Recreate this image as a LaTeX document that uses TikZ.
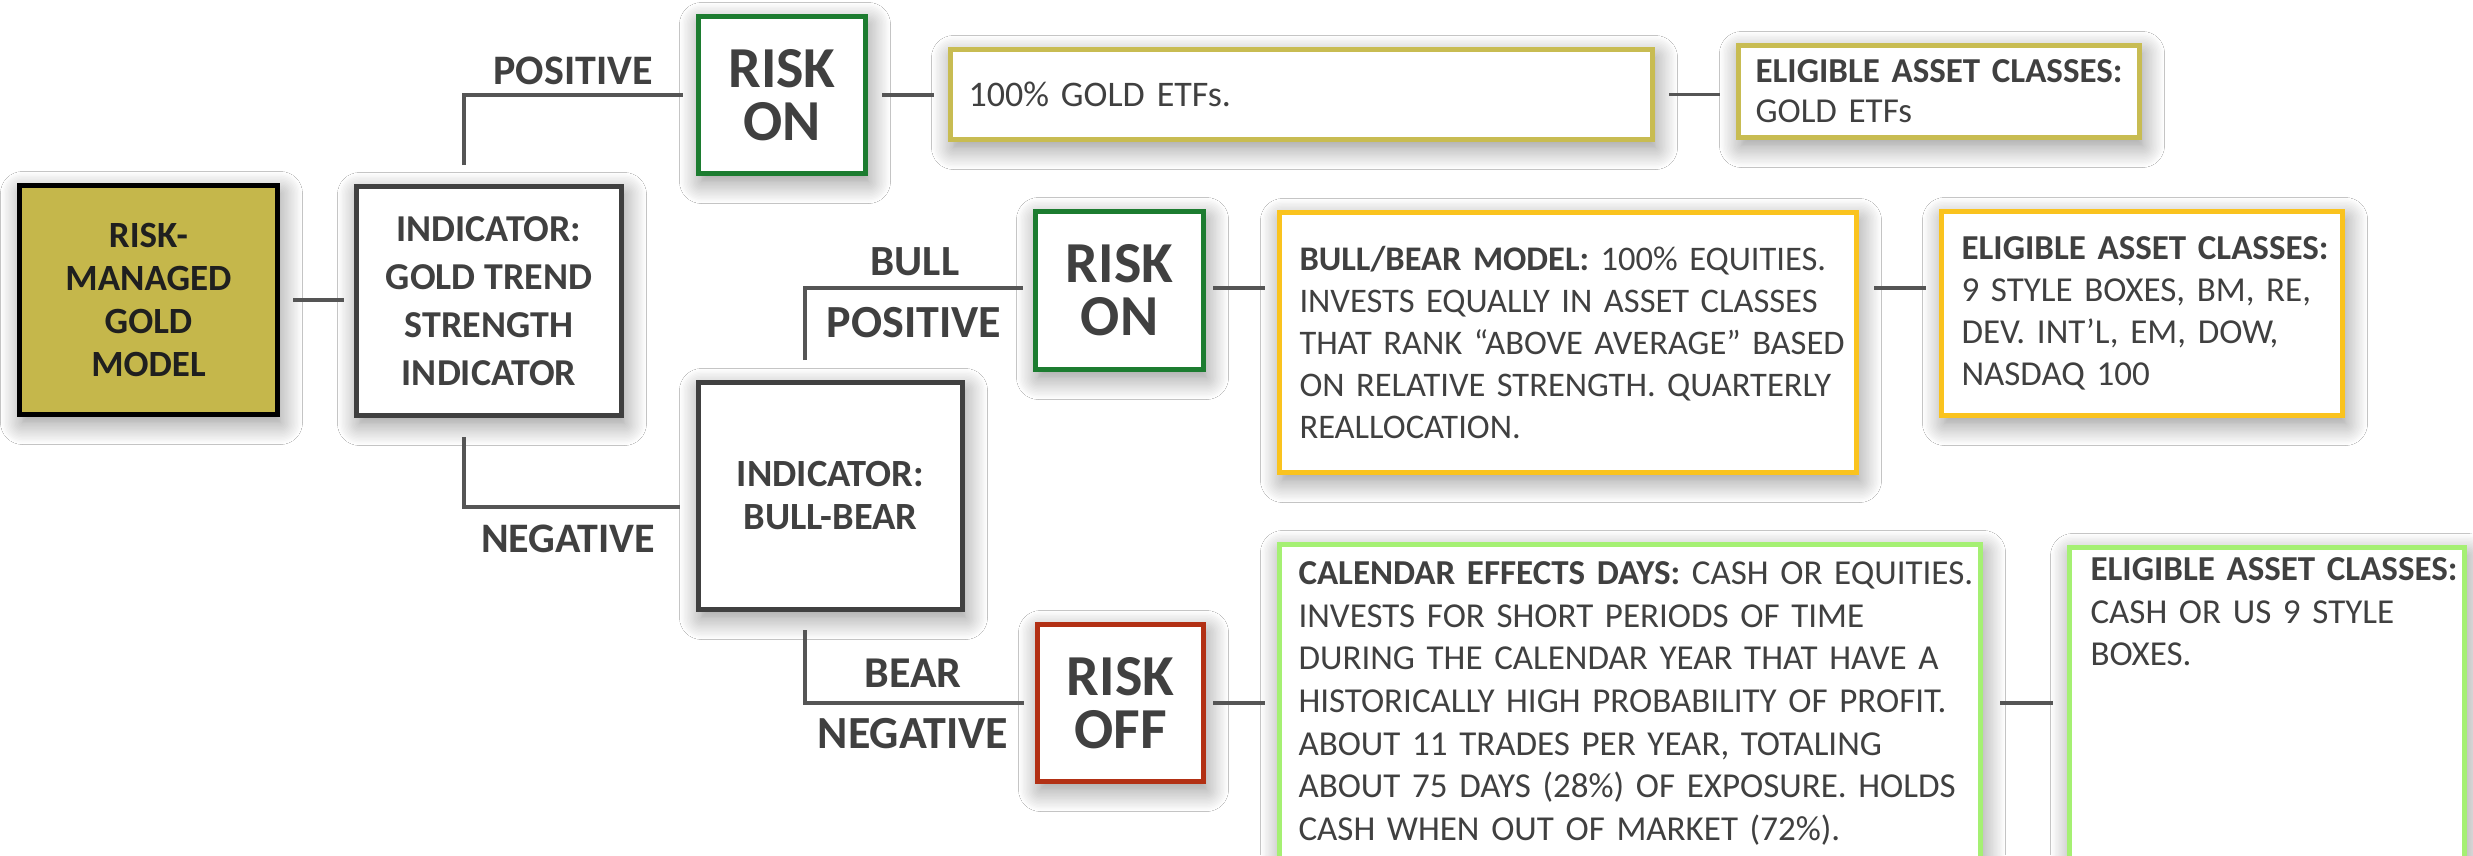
\documentclass[tikz,border=0pt]{standalone}
\usepackage{fontspec}
\setmainfont{Carlito}
\usetikzlibrary{shadows.blur,calc}
\definecolor{goldfill}{RGB}{197,183,75}
\definecolor{goldline}{RGB}{200,188,82}
\definecolor{riskgreen}{RGB}{28,124,48}
\definecolor{riskred}{RGB}{178,48,20}
\definecolor{ambline}{RGB}{250,195,30}
\definecolor{limeline}{RGB}{165,240,115}
\definecolor{txtgray}{RGB}{64,64,64}
\definecolor{conngray}{RGB}{85,85,85}
\begin{document}
\begin{tikzpicture}[x=1pt,y=-1pt,
  shadowed/.style={blur shadow={shadow xshift=3pt,shadow yshift=-8pt,shadow blur radius=22pt,shadow blur steps=16,shadow opacity=45}},
  box/.style={draw, fill=white, line width=5pt, inner sep=0pt, shadowed, text=txtgray},
  goldbox/.style={box, fill=goldfill, draw=black, text=black!88, align=center,
     font=\fontsize{37}{43}\selectfont\bfseries},
  indbox/.style={box, draw=txtgray, align=center},
  riskbox/.style={box, align=center, font=\fontsize{58}{53}\selectfont\bfseries},
  descbox/.style={box, align=left},
  lbl/.style={anchor=base, text=txtgray, inner sep=0pt},
  conn/.style={draw=conngray, line width=3.6pt}
]
\clip (0,0) rectangle (2473,855);
\fill[white] (0,0) rectangle (2473,855);

% main boxes
\node[goldbox, minimum width=258, minimum height=229] (gold) at (148.5,300)
  {RISK-\\MANAGED\\GOLD\\MODEL};
\node[indbox, minimum width=265, minimum height=229,
  font=\fontsize{38}{48}\selectfont\bfseries] (ind1) at (489,301)
  {INDICATOR:\\GOLD TREND\\STRENGTH\\INDICATOR};
\node[indbox, minimum width=264, minimum height=227,
  font=\fontsize{38.5}{43}\selectfont\bfseries] (ind2) at (830.5,496)
  {INDICATOR:\\BULL-BEAR};

\node[riskbox, draw=riskgreen, minimum width=167, minimum height=157] (ron1) at (782,95) {RISK\\ON};
\node[riskbox, draw=riskgreen, minimum width=168, minimum height=158] (ron2) at (1119.5,290.5) {RISK\\ON};
\node[riskbox, draw=riskred, minimum width=166, minimum height=157] (roff) at (1120.5,703) {RISK\\OFF};

% description boxes
\node[descbox, draw=goldline, minimum width=702, minimum height=90, text width=666,
  font=\fontsize{36}{42}\selectfont] (etf) at (1301.5,94.5)
  {\mbox{100\% GOLD ETFs.}};
\node[descbox, draw=goldline, minimum width=401, minimum height=92, text width=367,
  font=\fontsize{35}{40}\selectfont] (elig1) at (1939,91.5)
  {\mbox{\textbf{ELIGIBLE ASSET CLASSES:}}\\\mbox{GOLD ETFs}};
\node[descbox, draw=ambline, minimum width=577, minimum height=260, text width=537,
  font=\fontsize{34.5}{42}\selectfont] (bb) at (1568,342.5)
  {\mbox{\textbf{BULL/BEAR MODEL:} 100\% EQUITIES.}\\
   \mbox{INVESTS EQUALLY IN ASSET CLASSES}\\
   \mbox{THAT RANK “ABOVE AVERAGE” BASED}\\
   \mbox{ON RELATIVE STRENGTH. QUARTERLY}\\
   \mbox{REALLOCATION.}};
\node[descbox, draw=ambline, minimum width=401, minimum height=204, text width=361,
  font=\fontsize{35}{42}\selectfont] (elig2) at (2142,313.5)
  {\mbox{\textbf{ELIGIBLE ASSET CLASSES:}}\\
   \mbox{9 STYLE BOXES, BM, RE,}\\
   \mbox{DEV. INT’L, EM, DOW,}\\
   \mbox{NASDAQ 100}};
\node[descbox, draw=limeline, anchor=north west, minimum width=701, text width=663,
  inner ysep=17pt, text depth=360pt, font=\fontsize{35}{42.7}\selectfont] (cal) at (1277,542)
  {\mbox{\textbf{CALENDAR EFFECTS DAYS:} CASH OR EQUITIES.}\\
   \mbox{INVESTS FOR SHORT PERIODS OF TIME}\\
   \mbox{DURING THE CALENDAR YEAR THAT HAVE A}\\
   \mbox{HISTORICALLY HIGH PROBABILITY OF PROFIT.}\\
   \mbox{ABOUT 11 TRADES PER YEAR, TOTALING}\\
   \mbox{ABOUT 75 DAYS (28\%) OF EXPOSURE. HOLDS}\\
   \mbox{CASH WHEN OUT OF MARKET (72\%).}};
\node[descbox, draw=limeline, anchor=north west, minimum width=395, text width=353,
  inner ysep=10pt, text depth=360pt, font=\fontsize{35}{42.6}\selectfont] (elig3) at (2067,545)
  {\mbox{\textbf{ELIGIBLE ASSET CLASSES:}}\\
   \mbox{CASH OR US 9 STYLE}\\
   \mbox{BOXES.}};

% connectors
\draw[conn] ([xshift=13pt]gold.east) -- ([xshift=-10pt]ind1.west |- gold.east);
\draw[conn] ([xshift=-25pt,yshift=19pt]ind1.north) |- ([xshift=-13pt]ron1.west);
\draw[conn] ([xshift=14pt]ron1.east) -- ([xshift=-14pt]ron1.east -| etf.west);
\draw[conn] ([xshift=14pt]etf.east) -- ([xshift=-16pt]etf.east -| elig1.west);
\draw[conn] ([xshift=-25pt,yshift=-19pt]ind1.south) |- ([xshift=-16pt,yshift=-11pt]ind2.west);
\draw[conn] ([xshift=-25.5pt,yshift=20pt]ind2.north) |- ([xshift=-10pt,yshift=2.5pt]ron2.west);
\draw[conn] ([xshift=7pt,yshift=2.5pt]ron2.east) -- ([xshift=-12pt,yshift=2.5pt]ron2.east -| bb.west);
\draw[conn] ([xshift=15pt,yshift=2.5pt]bb.east |- ron2.east) -- ([xshift=-13pt,yshift=2.5pt]elig2.west |- ron2.east);
\draw[conn] ([xshift=-25.5pt,yshift=-18pt]ind2.south) |- ([xshift=-11pt]roff.west);
\draw[conn] ([xshift=7pt]roff.east) -- ([xshift=-12pt]roff.east -| cal.west);
\draw[conn] ([xshift=17pt]roff.east -| cal.east) -- ([xshift=-14pt]roff.east -| elig3.west);

% branch labels
\node[lbl, font=\fontsize{42}{42}\selectfont\bfseries] (lpos1) at (573,84) {POSITIVE};
\node[lbl, font=\fontsize{42}{42}\selectfont\bfseries] (lneg1) at (568,552) {NEGATIVE};
\node[lbl, font=\fontsize{43}{43}\selectfont\bfseries] (lbull) at (915,275) {BULL};
\node[lbl, font=\fontsize{46}{46}\selectfont\bfseries] (lpos2) at (914,337) {POSITIVE};
\node[lbl, font=\fontsize{44}{44}\selectfont\bfseries] (lbear) at (913,687) {BEAR};
\node[lbl, font=\fontsize{46}{46}\selectfont\bfseries] (lneg2) at (913,748) {NEGATIVE};
\end{tikzpicture}
\end{document}
